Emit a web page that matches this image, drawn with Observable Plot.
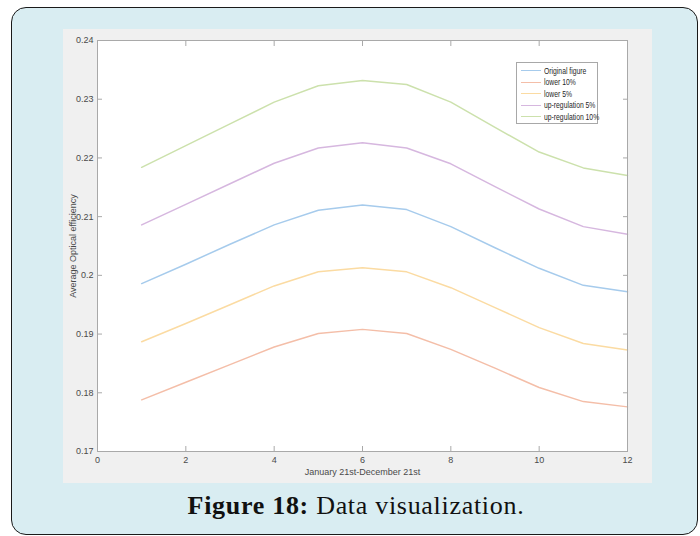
<!DOCTYPE html>
<html><head><meta charset="utf-8">
<script src="https://cdn.jsdelivr.net/npm/d3@7"></script>
<script src="https://cdn.jsdelivr.net/npm/@observablehq/plot@0.6"></script>
<style>
body{margin:0;width:700px;height:536px;position:relative;background:#fff;overflow:hidden;font-family:"Liberation Sans",Arial,sans-serif}
#box{position:absolute;left:11px;top:7px;width:685px;height:526px;border:1.5px solid #1a1a1a;border-radius:15px;background:#d9edf2}
#chart{position:absolute;left:63px;top:29px}
#legend{position:absolute;left:516px;top:62px;width:82px;height:62px;border:1px solid #a8a8a8;background:#fff;font-size:8.5px;color:#262626;box-sizing:border-box;padding-top:2px;overflow:visible}
#legend .row{height:11.5px;display:flex;align-items:center;white-space:nowrap}
#legend .sw{flex:0 0 20px;width:20px;height:0;border-top:1.5px solid;margin-left:4px;margin-right:3px}
#legend .tx{display:inline-block;transform:scaleX(0.8);transform-origin:left center}
#caption{position:absolute;left:0;width:712px;top:491px;text-align:center;font-family:"Liberation Serif",serif;font-size:26px;letter-spacing:0.7px;color:#111}
</style></head>
<body>
<div id="box"></div>
<div id="chart"></div>
<div id="legend"></div>
<div id="caption"><b>Figure 18:</b> Data visualization.</div>
<script>
const months = [1,2,3,4,5,6,7,8,9,10,11,12];
const original = [0.1986,0.2019,0.2053,0.2086,0.2111,0.2120,0.2112,0.2083,0.2047,0.2012,0.1983,0.1972];
const lower10  = [0.1788,0.1818,0.1848,0.1878,0.1901,0.1908,0.1901,0.1874,0.1842,0.1809,0.1785,0.1776];
const lower5   = [0.1887,0.1918,0.1950,0.1982,0.2006,0.2013,0.2006,0.1979,0.1945,0.1911,0.1884,0.1873];
const up5      = [0.2086,0.2121,0.2156,0.2191,0.2217,0.2226,0.2217,0.2190,0.2151,0.2113,0.2083,0.2070];
const up10     = [0.2184,0.2221,0.2258,0.2295,0.2323,0.2332,0.2325,0.2295,0.2252,0.2210,0.2183,0.2170];
const seriesNames = ["Original figure","lower 10%","lower 5%","up-regulation 5%","up-regulation 10%"];
const seriesColors = ["#a6cbec","#f4bea8","#fbdba2","#d6b7df","#cce1ac"];
const xTicks = [0,2,4,6,8,10,12];
const xTickLabels = ["0","2","4","6","8","10","12"];
const yTicks = [0.17,0.18,0.19,0.20,0.21,0.22,0.23,0.24];
const yTickLabels = ["0.17","0.18","0.19","0.2","0.21","0.22","0.23","0.24"];
const xLabel = "January 21st-December 21st";
const yLabel = "Average Optical efficiency";

const seriesValues = [original, lower10, lower5, up5, up10];
const rows = [];
seriesValues.forEach((vals, si) => vals.forEach((v, i) => rows.push({x: months[i], y: v, s: seriesNames[si]})));

const chart = Plot.plot({
  width: 589, height: 454,
  marginLeft: 34, marginTop: 11, marginRight: 25, marginBottom: 32,
  style: {background: "#f0f0f0", fontFamily: "Liberation Sans, Arial, sans-serif", fontSize: "9px", color: "#4a4a4a"},
  x: {domain: [0, 12]},
  y: {domain: [0.17, 0.24]},
  color: {domain: seriesNames, range: seriesColors},
  marks: [
    Plot.frame({fill: "white", stroke: null}),
    Plot.line(rows, {x: "x", y: "y", z: "s", stroke: "s", strokeWidth: 1.5}),
    Plot.frame({stroke: "#a9a9a9"}),
    Plot.axisX(xTicks, {tickSize: -5, tickPadding: 10, stroke: "#a9a9a9", tickFormat: (d) => xTickLabels[xTicks.indexOf(d)], label: xLabel, labelAnchor: "center", labelArrow: "none", labelOffset: 23}),
    Plot.axisX(xTicks, {anchor: "top", tickSize: -5, stroke: "#a9a9a9", tickFormat: () => "", label: null}),
    Plot.axisY(yTicks, {tickSize: -5, tickPadding: 9, stroke: "#a9a9a9", tickFormat: (d) => yTickLabels[yTicks.indexOf(d)], label: yLabel, labelAnchor: "center", labelArrow: "none", labelOffset: 28}),
    Plot.axisY(yTicks, {anchor: "right", tickSize: -5, stroke: "#a9a9a9", tickFormat: () => "", label: null})
  ]
});
document.getElementById("chart").appendChild(chart);

const legend = document.getElementById("legend");
seriesNames.forEach((n, i) => {
  const r = document.createElement("div"); r.className = "row";
  const sw = document.createElement("span"); sw.className = "sw"; sw.style.borderTopColor = seriesColors[i];
  const t = document.createElement("span"); t.className = "tx"; t.textContent = n;
  r.appendChild(sw); r.appendChild(t); legend.appendChild(r);
});
</script>
</body></html>
